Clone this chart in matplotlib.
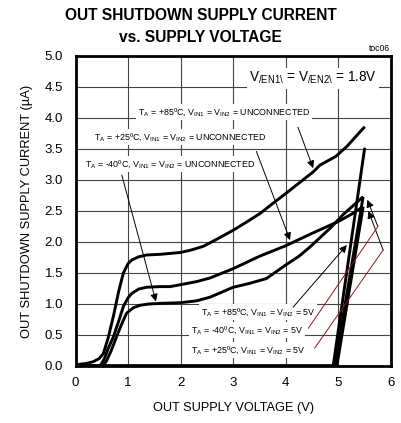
import matplotlib
matplotlib.use('Agg')
import matplotlib.pyplot as plt

# ===== Datos =====
# V_IN1 = V_IN2 = UNCONNECTED
v_85 = [0, 0.2, 0.34, 0.45, 0.53, 0.62, 0.72, 0.82, 0.91, 1.0, 1.07, 1.2, 1.35, 1.6, 1.99,
        2.2, 2.43, 2.7, 3.0, 3.25, 3.51, 3.75, 4.01, 4.25, 4.52, 4.65, 4.8, 4.95, 5.16, 5.5]
i_85 = [0.02, 0.04, 0.07, 0.12, 0.2, 0.45, 0.8, 1.2, 1.5, 1.65, 1.71, 1.76, 1.79, 1.80, 1.83,
        1.87, 1.93, 2.05, 2.19, 2.32, 2.46, 2.62, 2.79, 2.95, 3.13, 3.24, 3.31, 3.38, 3.54, 3.86]

v_25 = [0, 0.47, 0.55, 0.62, 0.72, 0.82, 0.91, 1.0, 1.07, 1.2, 1.35, 1.6, 1.8, 1.99, 2.3,
        2.56, 3.0, 3.5, 4.0, 4.5, 4.84, 5.0, 5.25, 5.47]
i_25 = [0, 0, 0.12, 0.28, 0.47, 0.72, 0.96, 1.1, 1.17, 1.24, 1.27, 1.28, 1.28, 1.31, 1.36,
        1.42, 1.57, 1.77, 1.94, 2.14, 2.27, 2.33, 2.45, 2.57]

v_m40 = [0, 0.53, 0.6, 0.68, 0.78, 0.88, 0.97, 1.1, 1.23, 1.4, 1.61, 1.99, 2.3, 2.56, 3.0,
         3.3, 3.63, 4.0, 4.25, 4.46, 4.84, 5.1, 5.47]
i_m40 = [0, 0, 0.1, 0.25, 0.47, 0.68, 0.85, 0.94, 0.98, 1.0, 1.01, 1.02, 1.05, 1.11, 1.27,
         1.33, 1.41, 1.63, 1.77, 1.92, 2.22, 2.45, 2.73]

# V_IN1 = V_IN2 = 5V
v_85_5v = [0, 4.9, 5.5]
i_85_5v = [0, 0, 3.52]
v_m40_5v = [0, 4.93, 5.47]
i_m40_5v = [0, 0, 2.73]
v_25_5v = [0, 4.97, 5.47]
i_25_5v = [0, 0, 2.57]

x_ticks = [0, 1, 2, 3, 4, 5, 6]
y_ticks = [0.0, 0.5, 1.0, 1.5, 2.0, 2.5, 3.0, 3.5, 4.0, 4.5, 5.0]

plt.rcParams['font.family'] = ['Liberation Sans', 'DejaVu Sans']
plt.rcParams['mathtext.default'] = 'regular'

fig = plt.figure(figsize=(4.01, 4.23), dpi=100)
ax = fig.add_axes([0.1883, 0.1348, 0.7868, 0.7329])

lw = 2.1
for v, i in [(v_85, i_85), (v_25, i_25), (v_m40, i_m40),
             (v_85_5v, i_85_5v), (v_m40_5v, i_m40_5v), (v_25_5v, i_25_5v)]:
    ax.plot(v, i, color='k', lw=lw, solid_capstyle='butt', zorder=4)

ax.set_xlim(0, 6)
ax.set_ylim(0, 5)
ax.set_xticks(x_ticks)
ax.set_yticks(y_ticks)
ax.set_yticklabels([f'{t:.1f}' for t in y_ticks])
ax.tick_params(length=0, labelsize=9.5)
ax.tick_params(axis='y', pad=9)
ax.tick_params(axis='x', pad=8)
ax.grid(True, color='#444444', lw=0.8)
for s in ax.spines.values():
    s.set_linewidth(2.0)
    s.set_zorder(5)

ax.set_xlabel('OUT SUPPLY VOLTAGE (V)', fontsize=9.2, labelpad=9)
ax.set_ylabel('OUT SHUTDOWN SUPPLY CURRENT (µA)', fontsize=9.3, labelpad=8)

fig.text(0.5, 0.9645, 'OUT SHUTDOWN SUPPLY CURRENT', ha='center', va='center',
         fontsize=11.2, fontweight='bold')
fig.text(0.5, 0.9125, 'vs. SUPPLY VOLTAGE', ha='center', va='center',
         fontsize=11.2, fontweight='bold')
fig.text(0.972, 0.886, 'toc06', ha='right', va='center', fontsize=6.2)

box = dict(facecolor='white', edgecolor='none', pad=1.5)
ax.text(5.73, 4.64, r'V$_{/EN1\backslash}$ = V$_{/EN2\backslash}$ = 1.8V', ha='right', va='center',
        fontsize=9.8, bbox=box, zorder=3)

fs = 6.4
ax.text(2.82, 4.10, 'T$_A$ = +85ºC, V$_{IN1}$ = V$_{IN2}$ = UNCONNECTED', ha='center', va='center',
        fontsize=fs, bbox=box, zorder=3)
ax.text(1.99, 3.69, 'T$_A$ = +25ºC, V$_{IN1}$ = V$_{IN2}$ = UNCONNECTED', ha='center', va='center',
        fontsize=fs, bbox=box, zorder=3)
ax.text(1.80, 3.26, 'T$_A$ = -40ºC, V$_{IN1}$ = V$_{IN2}$ = UNCONNECTED', ha='center', va='center',
        fontsize=fs, bbox=box, zorder=3)
ax.text(3.47, 0.87, 'T$_A$ = +85ºC, V$_{IN1}$ = V$_{IN2}$ = 5V', ha='center', va='center',
        fontsize=fs, bbox=box, zorder=3)
ax.text(3.26, 0.58, 'T$_A$ = -40ºC, V$_{IN1}$ = V$_{IN2}$ = 5V', ha='center', va='center',
        fontsize=fs, bbox=box, zorder=3)
ax.text(3.28, 0.26, 'T$_A$ = +25ºC, V$_{IN1}$ = V$_{IN2}$ = 5V', ha='center', va='center',
        fontsize=fs, bbox=box, zorder=3)

# flechas
arrow = dict(arrowstyle='-|>', lw=0.7, color='k', mutation_scale=11, shrinkA=0, shrinkB=0)
for start, end in [((4.23, 3.85), (4.52, 3.19)),
                   ((3.44, 3.46), (4.08, 2.03)),
                   ((0.88, 3.08), (1.53, 1.04)),
                   ((4.14, 0.95), (5.16, 1.95)),
                   ((5.75, 2.25), (5.55, 2.68)),
                   ((5.85, 1.87), (5.57, 2.50))]:
    ax.annotate('', xy=end, xytext=start, arrowprops=arrow, zorder=6)

# líneas rojas guía
ax.plot([4.43, 5.75], [0.61, 2.25], color='#8b1a1a', lw=0.7, zorder=6)
ax.plot([4.55, 5.85], [0.29, 1.87], color='#8b1a1a', lw=0.7, zorder=6)

fig.savefig('out.png', dpi=100)
